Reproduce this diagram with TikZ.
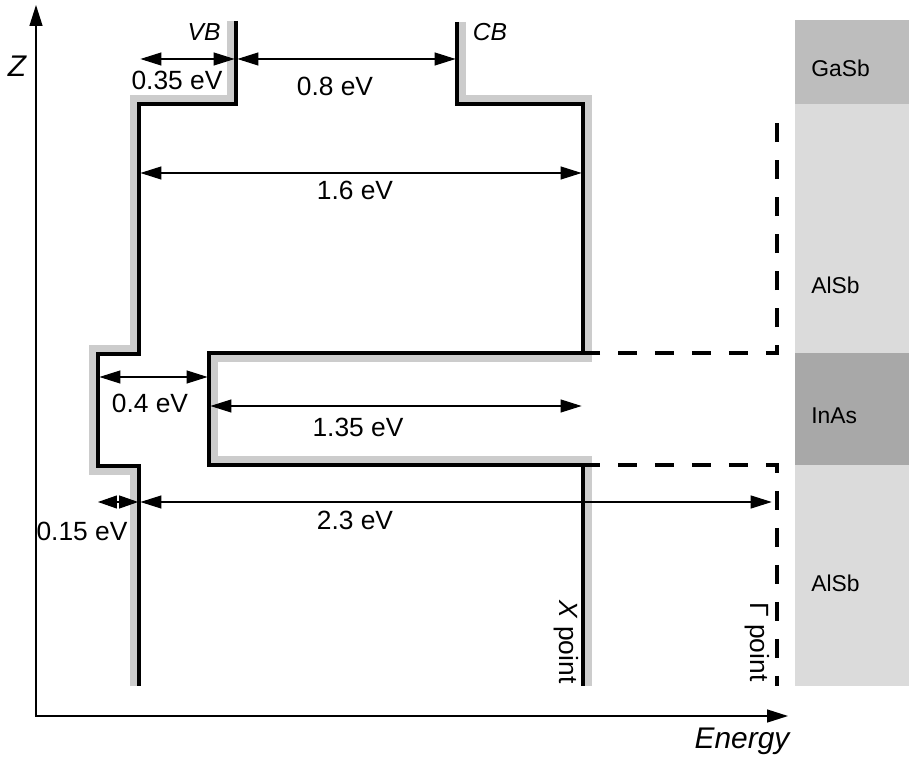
\documentclass[tikz,border=0pt]{standalone}
\usepackage{fontspec}
\setmainfont{Liberation Sans}
\usetikzlibrary{arrows.meta}
\definecolor{halogray}{gray}{0.8}
\definecolor{gasbgray}{gray}{0.74}
\definecolor{alsbgray}{gray}{0.86}
\definecolor{inasgray}{gray}{0.66}

\begin{document}
\begin{tikzpicture}[
  x=0.02cm, y=-0.02cm,
  >={Triangle[length=4.2mm,width=2.6mm]},
  band/.style={line width=1.9pt},
  halo/.style={line width=4.4pt, halogray},
  gband/.style={line width=1.9pt, dash pattern=on 0.38cm off 0.36cm, dash phase=0.38cm},
  dim/.style={<->, line width=0.6pt, shorten <=0.8pt, shorten >=0.8pt},
  axis/.style={<->, line width=0.8pt},
  lbl/.style={font=\fontsize{15}{18}\selectfont, inner sep=0pt},
  ilbl/.style={font=\fontsize{14}{17}\selectfont\itshape, inner sep=0pt},
  mat/.style={font=\fontsize{13}{16}\selectfont, inner sep=0pt, anchor=west},
]
  \useasboundingbox (0,0) rectangle (909,766);

  % Layer column
  \fill[gasbgray] (795,20) rectangle (909,104);
  \fill[alsbgray] (795,104) rectangle (909,353);
  \fill[inasgray] (795,353) rectangle (909,465);
  \fill[alsbgray] (795,465) rectangle (909,686);
  \node[mat] (gasb) at (811,68) {GaSb};
  \node[mat] (alsbtop) at (811,285) {AlSb};
  \node[mat] (inas) at (811,416) {InAs};
  \node[mat] (alsbbot) at (811,583) {AlSb};

  % Axes
  \coordinate (ztop) at (36,5);
  \coordinate (etip) at (788,716);
  \draw[axis] (ztop) |- (etip);
  \node[font=\fontsize{17}{20}\selectfont\itshape, inner sep=0pt] (zlbl) at (17,66) {Z};
  \node[font=\fontsize{17}{20}\selectfont\itshape, inner sep=0pt] (elbl) at (742,741) {Energy};

  % Shading along the band edges
  \draw[halo] (231,21) -- (231,99) -- (134,99) -- (134,349) -- (93,349)
    -- (93,471) -- (134,471) -- (134,686);
  \draw[halo] (462,22) -- (462,99) -- (588,99) -- (588,358) -- (214,358)
    -- (214,460) -- (588,460) -- (588,686);

  % Valence band
  \draw[band] (236,21) -- (236,104) -- (139,104) -- (139,354) -- (98,354)
    -- (98,466) -- (139,466) -- (139,686);
  % Conduction band (X point)
  \draw[band] (457,22) -- (457,104) -- (583,104) -- (583,353);
  \draw[band] (600,353) -- (209,353) -- (209,465) -- (600,465);
  \draw[band] (583,465) -- (583,686);
  % Gamma point
  \draw[gband] (600,353) -- (777,353) -- (777,118);
  \draw[gband] (600,465) -- (777,465) -- (777,686);

  \node[ilbl] (vblbl) at (204,32) {VB};
  \node[ilbl] (cblbl) at (490,32) {CB};
  \node[lbl, rotate=-90] (xlbl) at (566,642) {\textit{X} point};
  \node[lbl, rotate=-90] (glbl) at (757,642) {Γ point};

  % Band edge positions and rows
  \coordinate (vbGa) at (236,0);
  \coordinate (vbAl) at (139,0);
  \coordinate (vbIn) at (98,0);
  \coordinate (cbGa) at (457,0);
  \coordinate (cbX) at (583,0);
  \coordinate (cbIn) at (209,0);
  \coordinate (gam) at (777,0);
  \coordinate (r1) at (0,59);
  \coordinate (r2) at (0,173);
  \coordinate (r3) at (0,377);
  \coordinate (r4) at (0,406);
  \coordinate (r5) at (0,502);

  % Gaps
  \draw[dim] (vbAl |- r1) -- (vbGa |- r1);
  \draw[dim] (vbGa |- r1) -- (cbGa |- r1);
  \draw[dim] (vbAl |- r2) -- (cbX |- r2);
  \draw[dim] (vbIn |- r3) -- (cbIn |- r3);
  \draw[dim] (cbIn |- r4) -- (cbX |- r4);
  \draw[dim, >={Triangle[length=3.8mm,width=2.6mm]}, shorten <=0pt, shorten >=0.5pt]
    (vbIn |- r5) -- (vbAl |- r5);
  \draw[dim, shorten >=3pt] (vbAl |- r5) -- (gam |- r5);

  \node[lbl] (e035) at (177,80) {0.35 eV};
  \node[lbl] (e08) at (335,86) {0.8 eV};
  \node[lbl] (e16) at (355,190) {1.6 eV};
  \node[lbl] (e04) at (150,403) {0.4 eV};
  \node[lbl] (e135) at (358,427) {1.35 eV};
  \node[lbl] (e015) at (82,531) {0.15 eV};
  \node[lbl] (e23) at (355,520) {2.3 eV};
\end{tikzpicture}
\end{document}
